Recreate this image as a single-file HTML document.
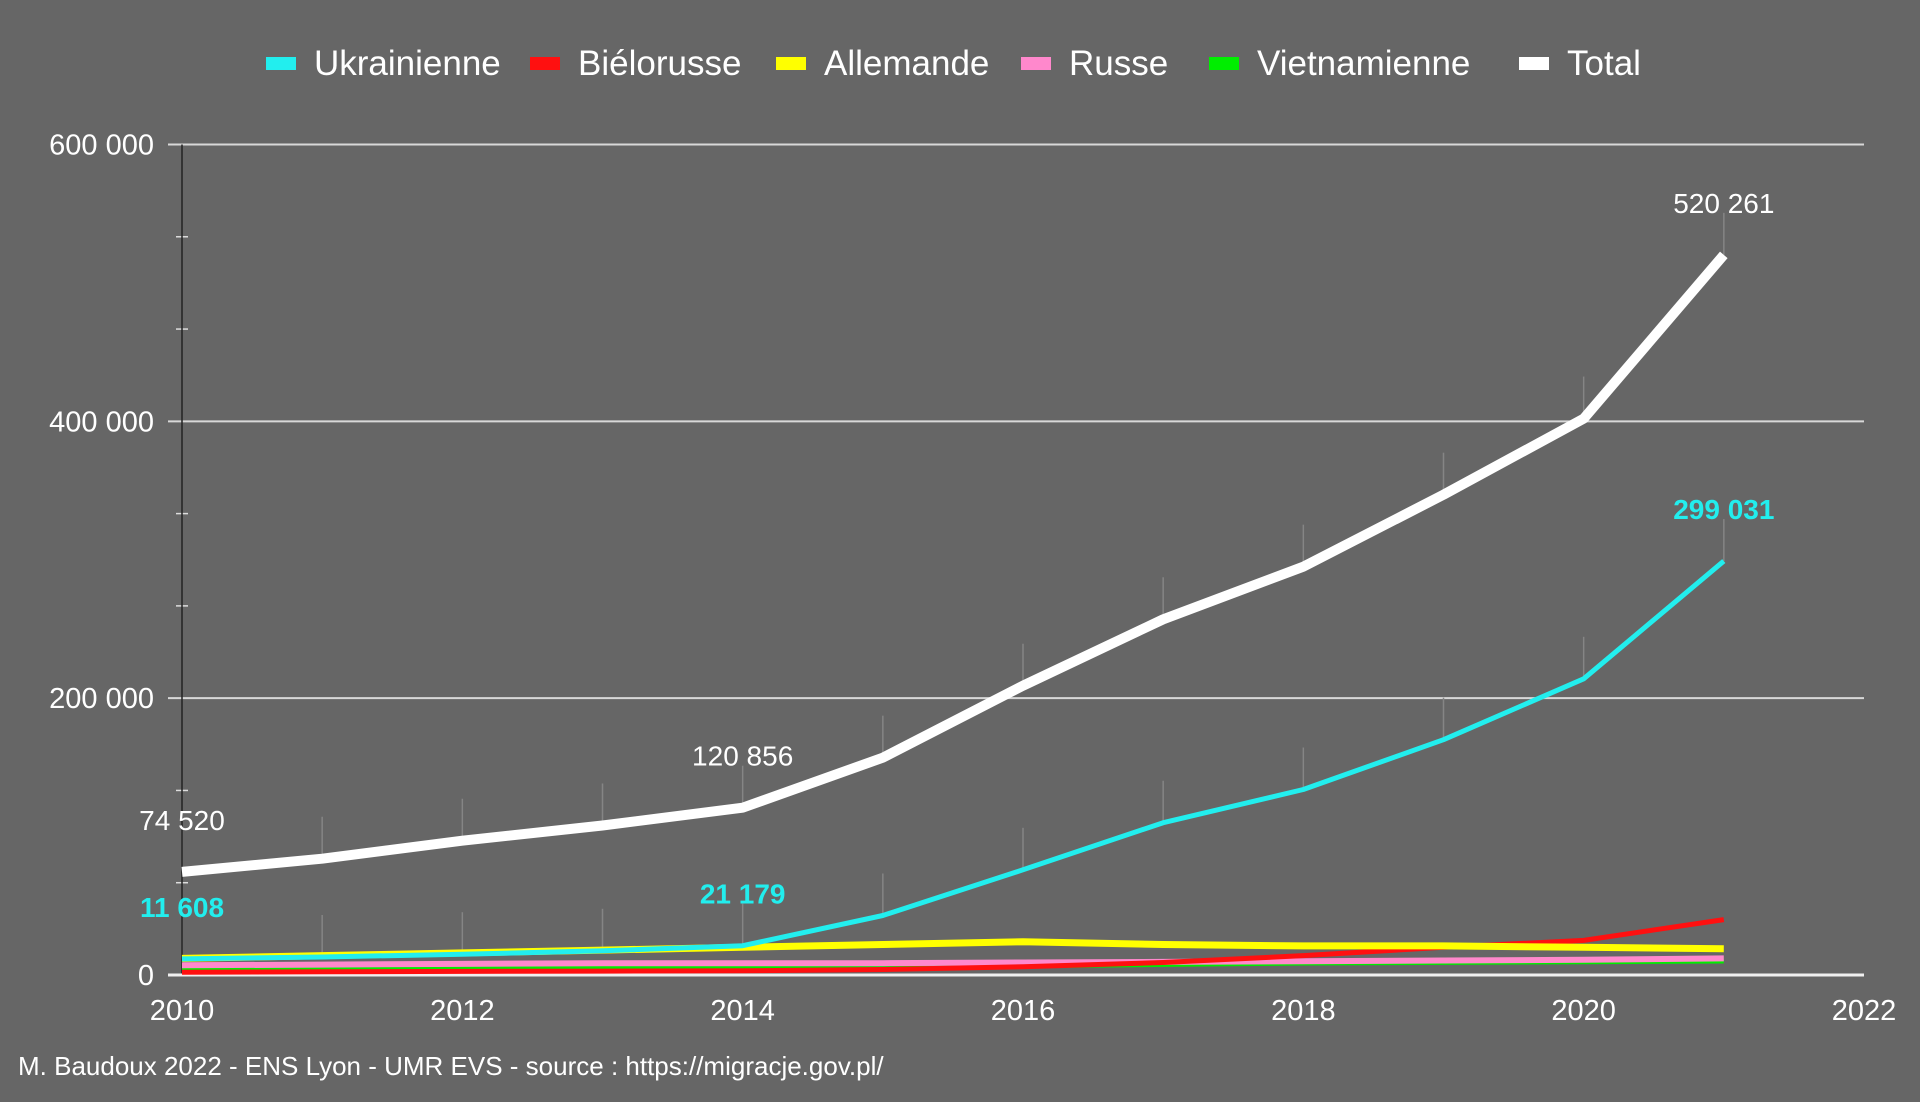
<!DOCTYPE html>
<html><head><meta charset="utf-8"><style>
html,body{margin:0;padding:0;background:#666666;}
svg{display:block;font-family:"Liberation Sans",sans-serif;}
</style></head><body>
<svg id="chart" width="1920" height="1102" viewBox="0 0 1920 1102">
<rect width="1920" height="1102" fill="#666666"/>
<g id="legend"></g>
<g id="grid"></g>
<g id="axes"></g>
<g id="series"></g>
<g id="labels"></g>
<text x="18" y="1075" font-size="26" fill="#ffffff">M. Baudoux 2022 - ENS Lyon - UMR EVS - source : https://migracje.gov.pl/</text>
</svg>
<script>
const years=[2010,2011,2012,2013,2014,2015,2016,2017,2018,2019,2020,2021];
const totalVals=[74520,84000,97000,108000,120856,157000,209000,257000,295000,347000,402000,520261];
const ukrVals=[11608,13000,15000,17500,21179,43000,76000,110000,134000,170000,214000,299031];
const belVals=[2000,2300,2600,2800,3000,4000,6000,9000,14000,20000,25000,40000];
const gerVals=[12000,14000,16000,18000,20000,22000,24000,22000,21000,21000,20000,19000];
const rusVals=[7000,7500,8000,8500,8500,8500,9000,9500,10000,10500,11000,12000];
const vieVals=[4000,4500,5000,5500,6000,6500,7000,8000,9000,9500,10000,10500];
const yTicks=[0,200000,400000,600000];
const yTickLabels=["0","200 000","400 000","600 000"];
const xTicks=[2010,2012,2014,2016,2018,2020,2022];
const seriesNames=["Ukrainienne","Biélorusse","Allemande","Russe","Vietnamienne","Total"];
const NS="http://www.w3.org/2000/svg";
const X0=182,X1=1864,Y0=975,Y1=144.5;
const xs=y=>X0+(y-2010)/(2022-2010)*(X1-X0);
const ys=v=>Y0-v/600000*(Y0-Y1);
function mk(tag,attrs,parent){const e=document.createElementNS(NS,tag);for(const k in attrs)e.setAttribute(k,attrs[k]);parent.appendChild(e);return e;}
const grid=document.getElementById('grid'),axes=document.getElementById('axes'),ser=document.getElementById('series'),lab=document.getElementById('labels'),leg=document.getElementById('legend');
yTicks.forEach((t,i)=>{
 if(t>0){const l=mk('line',{x1:168,x2:X1,y1:ys(t),y2:ys(t),stroke:'#d8d8d8','stroke-width':2},grid);
 
 }
 const tx=mk('text',{x:154,y:ys(t)+10,'text-anchor':'end','font-size':29,fill:'#fff'},axes);tx.textContent=yTickLabels[i];
 
 
});
for(let k=1;k<9;k++){if(k%3===0)continue;const v=k*200000/3;const m=mk('line',{x1:176,x2:188,y1:ys(v),y2:ys(v),stroke:'#ddd','stroke-width':1.5},axes);
 
 }
const ya=mk('line',{x1:X0,x2:X0,y1:Y1,y2:Y0,stroke:'#222','stroke-width':1.5},axes);


const xa=mk('line',{x1:168,x2:X1,y1:Y0,y2:Y0,stroke:'#f0f0f0','stroke-width':3},axes);


xTicks.forEach(t=>{const tx=mk('text',{x:xs(t),y:1020,'text-anchor':'middle','font-size':29,fill:'#fff'},axes);tx.textContent=t;
 
 });
// short faint marker lines above points
years.forEach((y,i)=>{[totalVals[i],ukrVals[i]].forEach(v=>{const l=mk('line',{x1:xs(y),x2:xs(y),y1:ys(v)-42,y2:ys(v),stroke:'#858585','stroke-width':1.5},grid);
 
 });});
const colors=['#22eeee','#ff1010','#ffff00','#ff88cc','#00ee00','#ffffff'];
const data=[ukrVals,belVals,gerVals,rusVals,vieVals,totalVals];
const widths=[5,5,7,6,6,10];
const order=[4,3,1,2,0,5];
order.forEach(k=>{const d=data[k].map((v,i)=>(i?'L':'M')+xs(years[i]).toFixed(1)+' '+ys(v).toFixed(1)).join(' ');
 const p=mk('path',{d:d,fill:'none',stroke:colors[k],'stroke-width':widths[k],'stroke-linejoin':'round'},ser);
 
 });
const labelIdx=[0,4,11];
labelIdx.forEach(i=>{
 const a=mk('text',{x:xs(years[i]),y:ys(totalVals[i])-42,'text-anchor':'middle','font-size':28,fill:'#fff'},lab);a.textContent=totalVals[i].toLocaleString('fr-FR').replace(/\s/g,' ');
 
 
 const b=mk('text',{x:xs(years[i]),y:ys(ukrVals[i])-42,'text-anchor':'middle','font-size':28,fill:'#22eeee','font-weight':'bold'},lab);b.textContent=ukrVals[i].toLocaleString('fr-FR').replace(/\s/g,' ');
 
 
});
const legX=[266,530,776,1021,1209,1519];
seriesNames.forEach((n,i)=>{const g=mk('g',{},leg);
 
 
 mk('rect',{x:legX[i],y:57,width:30,height:13,fill:colors[i]},g);
 const t=mk('text',{x:legX[i]+48,y:75,'font-size':35,fill:'#fff'},g);t.textContent=n;});
</script>
</body></html>
